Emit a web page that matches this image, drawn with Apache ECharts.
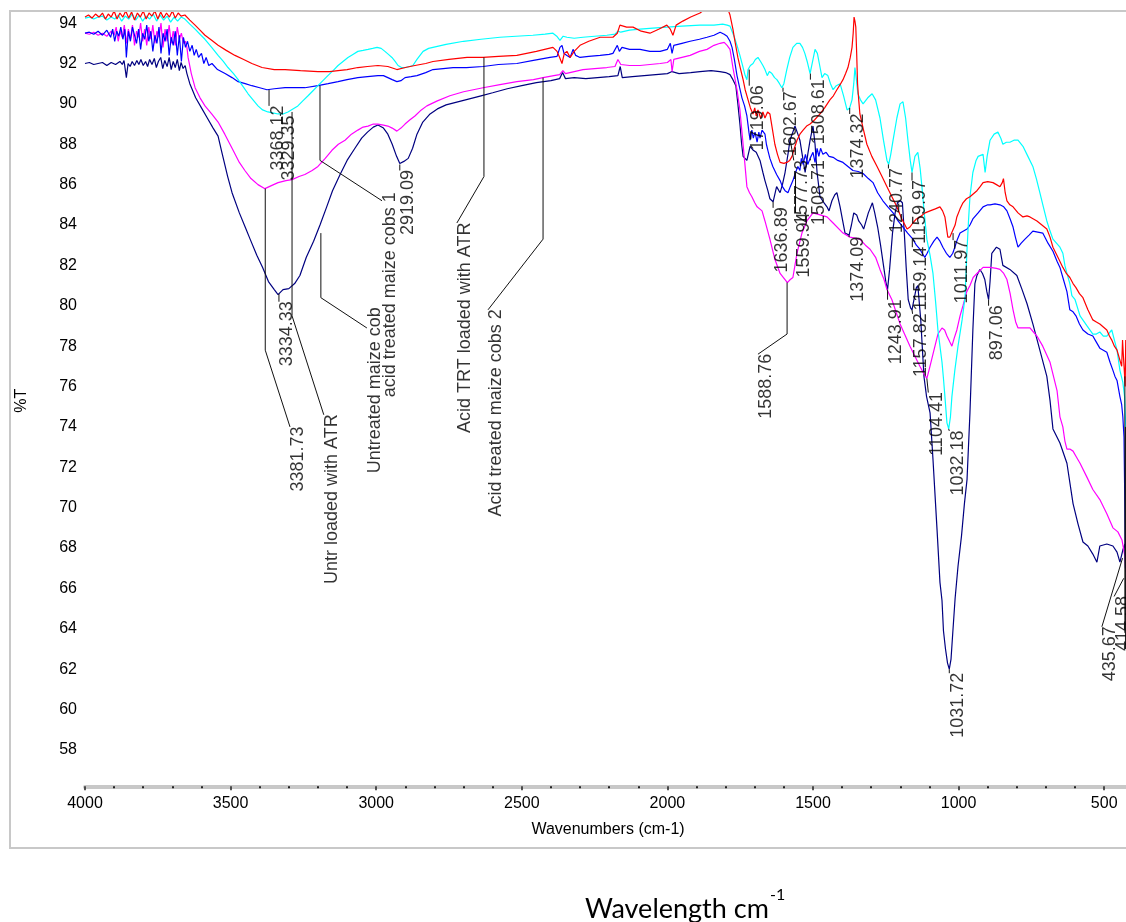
<!DOCTYPE html>
<html><head><meta charset="utf-8">
<script src="https://cdn.jsdelivr.net/npm/echarts@6/dist/echarts.min.js"></script>
<style>html,body{margin:0;padding:0;background:#fff}#c{width:1126px;height:922px}</style>
</head><body><div id="c"></div><script>
// ---- data: [wavenumber cm-1, %T] ----
const seriesNames = ['Untreated maize cob','Acid treated maize cobs 2','acid treated maize cobs 1','Untr loaded with ATR','Acid TRT loaded with ATR'];
const seriesColors = ['#000080','#ff00ff','#0000ff','#00ffff','#ff0000'];

const untreatedMaizeCob = [[4000,92.0],[3985,92.05],[3970,91.95],[3955,92.0],[3940,92.05],[3925,91.9],[3910,92.05],[3895,91.95],[3880,92.1],[3872,91.95],[3866,92.15],[3858,91.3],[3852,92.0],[3845,91.85],[3838,92.1],[3830,91.9],[3822,92.15],[3815,91.95],[3808,92.2],[3800,91.9],[3792,92.1],[3785,91.85],[3778,92.2],[3770,91.95],[3762,92.25],[3755,91.8],[3748,92.1],[3740,92.3],[3733,91.75],[3726,92.15],[3718,91.85],[3711,92.3],[3704,91.7],[3697,92.1],[3690,91.8],[3683,92.2],[3676,91.65],[3670,92.05],[3663,91.75],[3656,91.9],[3650,91.5],[3640,91.0],[3620,90.3],[3600,89.8],[3580,89.3],[3560,88.8],[3543,88.4],[3530,87.6],[3510,86.4],[3495,85.6],[3470,84.6],[3450,83.9],[3433,83.3],[3410,82.5],[3390,81.9],[3370,81.2],[3350,80.8],[3337,80.55],[3320,80.8],[3300,80.85],[3280,81.1],[3262,81.5],[3240,82.4],[3215,83.2],[3193,84.0],[3170,84.9],[3150,85.7],[3124,86.5],[3100,87.2],[3073,87.8],[3050,88.3],[3030,88.6],[3010,88.85],[2994,88.95],[2975,88.8],[2960,88.5],[2945,88.0],[2930,87.4],[2919,87.05],[2905,87.15],[2890,87.3],[2875,87.8],[2860,88.5],[2840,89.1],[2815,89.5],[2790,89.75],[2760,89.95],[2720,90.1],[2680,90.25],[2640,90.4],[2600,90.55],[2550,90.75],[2500,90.9],[2450,91.05],[2400,91.15],[2370,91.25],[2360,91.55],[2350,91.25],[2320,91.3],[2280,91.25],[2240,91.3],[2200,91.35],[2170,91.4],[2162,91.85],[2155,91.3],[2120,91.35],[2080,91.4],[2040,91.45],[2000,91.5],[1984,91.6],[1960,91.5],[1920,91.55],[1888,91.6],[1850,91.65],[1820,91.6],[1800,91.55],[1785,91.45],[1775,91.2],[1765,90.9],[1758,90.0],[1751,89.0],[1745,88.0],[1740,87.4],[1727,87.2],[1716,87.9],[1705,87.7],[1695,87.6],[1682,87.2],[1672,86.6],[1665,86.2],[1655,85.7],[1648,85.3],[1637,85.15],[1625,85.9],[1613,85.6],[1605,86.0],[1596,86.6],[1585,87.6],[1579,88.2],[1562,88.9],[1552,88.5],[1545,88.2],[1535,87.3],[1527,86.6],[1518,87.5],[1510,88.2],[1500,88.9],[1493,88.0],[1486,86.6],[1476,85.4],[1462,85.1],[1452,84.9],[1445,84.7],[1435,85.2],[1425,85.5],[1418,85.6],[1407,84.9],[1398,84.2],[1390,83.6],[1376,83.5],[1368,84.0],[1360,84.6],[1350,84.5],[1343,84.2],[1333,84.0],[1326,83.8],[1310,84.6],[1296,85.1],[1288,84.6],[1278,83.9],[1268,83.0],[1257,81.9],[1250,81.2],[1244,80.8],[1237,81.8],[1227,83.6],[1218,84.6],[1210,85.1],[1200,85.2],[1193,85.1],[1186,83.5],[1180,81.9],[1173,80.3],[1165,79.9],[1160,79.8],[1152,80.4],[1145,80.9],[1140,81.0],[1130,79.3],[1119,76.5],[1110,75.5],[1098,74.7],[1088,72.4],[1074,68.9],[1064,66.3],[1057,65.4],[1052,63.9],[1045,63.0],[1038,62.3],[1032,62.0],[1026,62.5],[1020,63.8],[1012,65.5],[1002,67.1],[990,68.6],[980,70.2],[971,71.4],[961,74.7],[951,78.8],[944,81.1],[937,81.5],[927,81.8],[918,81.6],[910,81.3],[903,80.7],[897,80.3],[892,81.2],[886,82.6],[870,82.9],[858,82.8],[848,82.0],[824,81.8],[800,81.5],[782,80.8],[765,80.1],[745,79.1],[721,77.8],[697,76.5],[686,75.3],[676,73.9],[652,73.2],[628,72.2],[607,70.2],[590,69.2],[573,68.3],[556,68.1],[539,67.7],[525,67.3],[515,68.1],[491,68.2],[470,68.1],[456,67.8],[446,67.3],[436,67.9],[429,68.2],[426,67.5]];

const acidTreatedCobs2 = [[4000,93.5],[3985,93.45],[3970,93.55],[3955,93.4],[3940,93.5],[3925,93.35],[3910,93.6],[3900,93.4],[3893,93.8],[3886,93.1],[3879,93.6],[3872,93.3],[3865,93.9],[3858,93.0],[3851,93.7],[3844,93.2],[3837,93.9],[3830,92.9],[3823,93.6],[3816,93.3],[3809,94.0],[3802,93.1],[3795,93.7],[3788,92.9],[3781,93.8],[3774,93.2],[3767,93.9],[3760,93.0],[3753,93.6],[3746,93.3],[3739,94.0],[3732,92.8],[3725,93.7],[3718,93.1],[3711,93.9],[3704,93.0],[3697,93.6],[3690,92.9],[3683,93.8],[3676,93.2],[3669,93.5],[3662,93.0],[3655,93.1],[3650,92.8],[3646,92.3],[3635,91.5],[3622,90.8],[3605,90.3],[3588,89.9],[3565,89.5],[3543,89.1],[3520,88.5],[3495,87.8],[3470,87.1],[3451,86.7],[3430,86.3],[3406,86.0],[3382,85.8],[3360,85.95],[3337,86.1],[3310,86.2],[3289,86.25],[3265,86.4],[3245,86.5],[3220,86.7],[3200,86.9],[3175,87.3],[3152,87.7],[3130,88.0],[3107,88.2],[3085,88.5],[3063,88.7],[3045,88.85],[3028,88.9],[3010,89.0],[2994,89.0],[2975,88.95],[2960,88.9],[2945,88.8],[2929,88.65],[2915,88.8],[2901,89.0],[2885,89.2],[2867,89.4],[2845,89.7],[2826,89.9],[2790,90.15],[2747,90.4],[2700,90.6],[2633,90.8],[2575,90.95],[2517,91.1],[2460,91.2],[2427,91.3],[2390,91.4],[2370,91.45],[2359,91.65],[2350,91.5],[2320,91.6],[2290,91.7],[2250,91.75],[2208,91.8],[2180,91.85],[2170,92.2],[2160,91.95],[2130,91.9],[2094,91.9],[2060,91.95],[2025,92.0],[2000,92.05],[1988,92.2],[1984,91.6],[1978,92.2],[1950,92.3],[1922,92.4],[1890,92.6],[1864,92.7],[1840,92.9],[1819,93.0],[1805,93.05],[1795,92.9],[1785,92.7],[1775,91.8],[1761,90.7],[1751,89.7],[1744,88.6],[1735,87.2],[1727,85.9],[1718,85.6],[1710,85.4],[1700,85.1],[1692,84.9],[1675,84.7],[1665,84.2],[1648,83.3],[1631,82.3],[1613,81.6],[1596,81.3],[1588,81.15],[1578,81.3],[1569,81.4],[1562,82.0],[1555,82.6],[1538,83.6],[1521,84.2],[1500,84.6],[1476,84.5],[1452,84.4],[1431,84.1],[1397,83.6],[1373,83.4],[1339,83.3],[1320,83.0],[1304,82.8],[1285,82.4],[1270,81.8],[1256,81.3],[1246,80.8],[1229,80.3],[1201,79.1],[1167,78.0],[1133,77.0],[1118,76.6],[1109,76.4],[1100,76.9],[1088,77.6],[1071,78.6],[1057,78.9],[1048,78.8],[1040,78.5],[1030,78.2],[1023,78.0],[1015,78.4],[1006,78.8],[995,79.5],[985,80.0],[972,80.7],[961,81.0],[950,81.4],[937,81.6],[916,81.9],[892,81.9],[870,81.85],[858,81.8],[845,81.6],[834,81.3],[823,80.6],[813,79.8],[804,79.2],[796,78.9],[775,78.9],[755,78.9],[743,78.7],[731,78.5],[711,78.0],[686,77.2],[662,75.8],[652,74.5],[642,74.0],[635,73.3],[628,72.9],[618,72.9],[607,72.8],[595,72.5],[583,72.2],[559,71.5],[539,70.9],[515,70.4],[491,69.7],[470,69.0],[453,68.8],[439,68.4],[429,67.6],[426,66.8]];

const acidTreatedCobs1 = [[4000,93.5],[3985,93.55],[3970,93.45],[3955,93.6],[3940,93.4],[3925,93.65],[3912,93.3],[3905,93.7],[3898,93.1],[3891,93.6],[3884,93.35],[3877,93.8],[3870,93.2],[3863,93.7],[3858,92.3],[3851,93.6],[3844,93.1],[3837,93.8],[3830,93.4],[3823,93.0],[3816,93.7],[3809,92.7],[3802,93.5],[3795,93.2],[3788,93.9],[3781,93.1],[3774,93.6],[3767,92.6],[3760,93.4],[3753,93.0],[3746,93.8],[3739,92.5],[3732,93.5],[3725,93.1],[3718,93.7],[3711,92.4],[3704,93.3],[3697,92.9],[3690,93.6],[3683,92.4],[3676,93.4],[3669,92.1],[3662,93.3],[3655,92.8],[3648,93.1],[3640,92.6],[3632,92.9],[3625,92.4],[3618,92.7],[3610,92.3],[3600,92.5],[3592,92.0],[3584,92.3],[3575,91.9],[3564,92.0],[3545,91.7],[3519,91.5],[3495,91.3],[3474,91.1],[3450,91.0],[3427,90.9],[3400,90.8],[3375,90.7],[3350,90.75],[3313,90.8],[3280,90.8],[3245,90.8],[3200,90.9],[3165,91.0],[3131,91.1],[3100,91.2],[3063,91.3],[3030,91.35],[2994,91.4],[2975,91.4],[2960,91.3],[2945,91.2],[2929,91.1],[2915,91.15],[2901,91.3],[2880,91.35],[2860,91.4],[2830,91.55],[2805,91.7],[2770,91.75],[2736,91.8],[2690,91.8],[2633,91.85],[2580,91.95],[2517,92.0],[2460,92.15],[2403,92.3],[2379,92.35],[2369,92.8],[2362,92.9],[2355,92.5],[2345,92.4],[2334,92.3],[2324,92.7],[2315,92.4],[2300,92.3],[2270,92.35],[2231,92.4],[2200,92.45],[2187,92.5],[2172,92.9],[2165,92.6],[2156,92.8],[2130,92.7],[2094,92.7],[2060,92.6],[2025,92.6],[2000,92.7],[1990,93.0],[1984,92.5],[1978,92.9],[1950,93.0],[1922,93.1],[1890,93.2],[1864,93.3],[1840,93.4],[1819,93.55],[1805,93.45],[1795,93.35],[1785,93.1],[1778,92.8],[1770,92.2],[1761,91.4],[1752,90.8],[1744,90.3],[1735,89.9],[1727,89.4],[1720,88.6],[1716,88.2],[1710,88.7],[1705,88.3],[1699,88.6],[1692,88.1],[1686,88.6],[1682,88.3],[1675,88.7],[1665,88.5],[1660,88.0],[1655,87.7],[1648,87.3],[1638,86.9],[1625,86.5],[1613,86.2],[1605,85.9],[1596,85.7],[1586,85.6],[1578,85.9],[1569,86.2],[1560,86.6],[1552,86.9],[1545,86.7],[1540,87.3],[1534,87.0],[1526,87.5],[1518,87.0],[1510,87.3],[1500,87.6],[1493,87.1],[1486,87.8],[1480,87.4],[1474,87.8],[1466,87.5],[1455,87.6],[1445,87.4],[1431,87.35],[1415,87.2],[1397,87.1],[1380,86.9],[1363,86.7],[1345,86.65],[1328,86.55],[1310,86.3],[1294,86.1],[1278,85.6],[1260,85.2],[1243,84.9],[1225,84.6],[1208,84.2],[1191,83.9],[1175,83.6],[1157,83.3],[1145,83.0],[1133,82.8],[1125,82.6],[1116,82.4],[1108,82.6],[1098,82.9],[1085,83.2],[1074,83.4],[1064,83.2],[1054,82.9],[1042,82.6],[1030,82.4],[1020,82.6],[1013,82.9],[1004,83.3],[995,83.6],[983,83.7],[971,83.8],[961,84.0],[951,84.3],[933,84.6],[916,84.9],[900,85.0],[892,85.0],[875,85.05],[858,85.0],[845,84.9],[834,84.7],[823,84.3],[813,83.9],[805,83.4],[796,82.9],[785,83.1],[772,83.3],[758,83.5],[745,83.7],[728,83.65],[711,83.6],[693,83.1],[676,82.7],[662,82.2],[652,81.9],[640,81.3],[628,80.7],[618,79.8],[607,79.7],[597,79.5],[585,79.1],[573,78.8],[556,78.6],[539,78.5],[527,78.2],[515,77.9],[503,77.8],[491,77.7],[480,77.2],[470,76.8],[463,76.5],[456,76.3],[446,75.5],[440,75.1],[436,74.5],[432,73.5],[429,70.0],[427,67.0]];

const untrLoadedATR = [[4000,94.25],[3985,94.3],[3970,94.2],[3955,94.3],[3940,94.35],[3925,94.15],[3910,94.3],[3898,94.2],[3886,94.4],[3874,94.1],[3862,94.35],[3850,94.2],[3838,94.45],[3826,94.15],[3814,94.4],[3802,94.1],[3790,94.35],[3778,94.2],[3766,94.45],[3754,94.1],[3742,94.4],[3730,94.15],[3718,94.35],[3706,94.05],[3694,94.3],[3682,94.1],[3670,94.3],[3657,94.2],[3640,93.95],[3622,93.7],[3605,93.45],[3588,93.2],[3565,92.8],[3543,92.4],[3525,92.1],[3509,91.8],[3490,91.5],[3474,91.2],[3457,90.85],[3440,90.5],[3423,90.2],[3406,89.9],[3390,89.7],[3372,89.6],[3355,89.55],[3337,89.5],[3320,89.5],[3303,89.6],[3286,89.75],[3269,89.9],[3252,90.15],[3234,90.4],[3217,90.65],[3200,90.9],[3183,91.15],[3166,91.4],[3148,91.65],[3131,91.9],[3114,92.1],[3097,92.3],[3080,92.45],[3063,92.6],[3045,92.65],[3028,92.7],[3012,92.75],[2997,92.8],[2983,92.75],[2970,92.6],[2958,92.45],[2946,92.3],[2935,92.1],[2925,91.9],[2913,91.8],[2900,91.8],[2885,91.85],[2874,91.9],[2860,92.2],[2839,92.6],[2820,92.75],[2805,92.8],[2760,92.95],[2700,93.1],[2640,93.2],[2575,93.3],[2520,93.35],[2462,93.4],[2420,93.45],[2393,93.5],[2380,93.35],[2369,93.15],[2358,93.35],[2345,93.3],[2320,93.25],[2290,93.3],[2250,93.35],[2208,93.4],[2180,93.45],[2170,93.6],[2160,93.55],[2130,93.65],[2094,93.7],[2050,93.75],[2002,93.8],[1950,93.85],[1888,93.9],[1840,93.9],[1810,93.95],[1795,93.9],[1785,93.85],[1778,93.6],[1770,93.3],[1761,92.9],[1751,92.4],[1740,91.8],[1733,91.4],[1727,91.2],[1723,91.7],[1715,91.9],[1706,92.0],[1698,92.2],[1689,92.3],[1680,92.1],[1672,91.9],[1665,91.7],[1657,91.4],[1650,91.6],[1641,91.5],[1632,91.3],[1624,91.2],[1615,91.0],[1607,90.8],[1600,91.0],[1590,91.7],[1580,92.3],[1569,92.8],[1556,93.0],[1545,93.0],[1536,92.8],[1528,92.5],[1520,92.1],[1510,91.5],[1500,92.2],[1493,92.7],[1485,92.5],[1477,91.9],[1469,91.3],[1460,91.5],[1449,91.4],[1440,91.0],[1431,90.7],[1420,90.9],[1407,91.0],[1395,90.4],[1383,89.7],[1374,89.8],[1366,90.2],[1360,91.0],[1356,91.8],[1351,91.2],[1346,90.5],[1337,90.2],[1328,90.0],[1312,90.3],[1297,90.5],[1285,90.2],[1270,89.3],[1258,88.2],[1246,87.2],[1240,87.0],[1233,87.5],[1225,88.2],[1212,89.3],[1201,90.0],[1191,90.1],[1182,89.3],[1174,88.2],[1166,87.2],[1160,86.6],[1155,87.0],[1150,87.4],[1140,87.6],[1132,86.8],[1126,85.9],[1118,84.6],[1109,83.3],[1098,82.5],[1088,81.6],[1079,80.2],[1071,78.8],[1064,78.0],[1057,77.2],[1052,76.4],[1047,75.5],[1040,74.2],[1034,73.9],[1028,74.5],[1023,75.5],[1013,76.8],[1002,78.0],[988,79.3],[978,80.4],[971,82.8],[966,84.2],[961,85.4],[951,86.6],[940,87.2],[933,87.4],[916,87.5],[909,86.6],[902,87.4],[892,88.2],[878,88.5],[865,88.6],[855,88.3],[848,88.0],[836,88.1],[824,88.1],[810,88.2],[796,88.2],[779,87.9],[762,87.4],[745,86.9],[733,86.3],[721,85.6],[709,84.9],[697,84.2],[686,83.7],[676,83.3],[664,83.1],[652,82.9],[642,82.6],[635,82.0],[628,81.6],[618,81.1],[611,80.5],[600,80.3],[583,79.5],[559,79.0],[539,78.6],[527,78.6],[515,78.7],[503,78.5],[491,78.5],[480,78.7],[474,78.8],[465,78.3],[456,77.8],[446,76.8],[436,76.2],[430,75.5],[426,74.0]];

const acidTrtLoadedATR = [[4000,94.3],[3988,94.4],[3976,94.25],[3964,94.45],[3952,94.3],[3940,94.5],[3930,94.2],[3920,94.45],[3910,94.3],[3900,94.6],[3890,94.2],[3880,94.5],[3870,94.3],[3860,94.6],[3850,94.25],[3840,94.55],[3830,94.15],[3820,94.5],[3810,94.3],[3800,94.6],[3790,94.2],[3780,94.5],[3770,94.35],[3760,94.6],[3750,94.2],[3740,94.55],[3730,94.25],[3720,94.5],[3710,94.3],[3700,94.6],[3690,94.25],[3680,94.5],[3670,94.35],[3657,94.4],[3640,94.15],[3622,93.9],[3605,93.65],[3588,93.4],[3565,93.15],[3543,92.9],[3515,92.65],[3485,92.4],[3455,92.2],[3427,92.0],[3392,91.8],[3350,91.7],[3313,91.7],[3260,91.65],[3200,91.6],[3160,91.6],[3131,91.65],[3100,91.7],[3063,91.8],[3030,91.85],[2994,91.9],[2960,91.85],[2929,91.7],[2900,91.8],[2867,91.9],[2830,92.0],[2805,92.1],[2750,92.2],[2688,92.3],[2633,92.3],[2580,92.35],[2517,92.4],[2450,92.6],[2393,92.8],[2379,92.6],[2370,92.3],[2362,92.0],[2354,92.5],[2345,92.6],[2334,92.3],[2320,92.6],[2300,92.9],[2270,93.1],[2231,93.3],[2187,93.3],[2172,93.5],[2163,93.9],[2140,93.8],[2118,93.8],[2090,93.6],[2060,93.5],[2030,93.7],[2002,93.9],[1990,93.7],[1981,93.4],[1970,93.9],[1947,94.1],[1920,94.3],[1888,94.5],[1870,94.7],[1850,94.9],[1830,95.0],[1810,95.0],[1795,94.8],[1785,94.4],[1775,93.7],[1768,93.1],[1758,92.3],[1750,91.8],[1740,91.2],[1733,90.7],[1723,90.2],[1715,89.8],[1706,89.5],[1700,89.8],[1695,89.4],[1689,89.7],[1680,89.3],[1672,89.6],[1665,89.3],[1656,89.6],[1648,89.5],[1640,88.8],[1631,88.0],[1622,87.5],[1613,87.1],[1600,87.05],[1590,87.1],[1580,87.2],[1572,87.4],[1564,87.8],[1555,88.2],[1545,88.5],[1534,88.7],[1522,88.9],[1510,89.0],[1495,89.2],[1476,89.5],[1460,89.8],[1442,90.2],[1430,90.4],[1418,90.7],[1407,90.95],[1397,91.2],[1388,91.5],[1380,91.8],[1372,92.3],[1366,92.8],[1362,93.5],[1359,94.3],[1356,94.1],[1353,93.8],[1350,92.5],[1347,91.0],[1343,90.2],[1339,89.5],[1328,88.8],[1315,88.0],[1298,87.4],[1280,86.9],[1263,86.4],[1246,85.9],[1229,85.4],[1212,84.9],[1195,84.3],[1177,83.8],[1167,83.9],[1157,84.1],[1145,84.3],[1133,84.4],[1115,84.6],[1098,84.7],[1080,84.8],[1064,84.9],[1055,84.7],[1047,84.4],[1041,83.8],[1037,83.4],[1030,83.4],[1024,83.6],[1019,83.6],[1012,84.0],[1006,84.4],[995,84.8],[985,85.1],[973,85.3],[961,85.4],[949,85.55],[937,85.7],[926,85.9],[916,86.1],[900,86.15],[882,86.1],[870,86.0],[858,85.9],[850,86.1],[846,86.3],[840,85.6],[834,85.2],[824,85.0],[813,84.9],[796,84.6],[779,84.4],[765,84.45],[755,84.4],[743,84.3],[731,84.2],[714,84.0],[697,83.8],[686,83.4],[676,82.9],[659,82.4],[642,81.9],[630,81.6],[618,81.4],[607,81.1],[597,80.9],[585,80.6],[573,80.4],[556,79.8],[539,79.3],[527,79.2],[515,79.1],[503,78.95],[491,78.8],[482,78.5],[474,78.3],[465,78.0],[456,77.8],[446,77.3],[440,77.0],[437,78.3],[434,77.5],[431,76.8],[428,76.0],[426,78.3]];

const seriesData = [untreatedMaizeCob, acidTreatedCobs2, acidTreatedCobs1, untrLoadedATR, acidTrtLoadedATR];

// annotations: [text, leader path [[wn,%T],...], optional label anchor]
const annotations = [
  ['3368.12', [[3368,90.7],[3368,89.9]]],
  ['3329.35', [[3329,89.5],[3329,89.4]]],
  ['3334.33', [[3334,80.6],[3334,80.2]]],
  ['3381.73', [[3381,85.8],[3381,77.8],[3296,74.0]]],
  ['Untr loaded with ATR', [[3289,89.6],[3289,79.5],[3180,74.6]]],
  ['Untreated maize cob', [[3190,83.6],[3190,80.4],[3032,78.9]], [3032,79.9]],
  ['acid treated maize cobs 1', [[3193,90.9],[3193,87.2],[2980,85.2]], [2980,85.6]],
  ['2919.09', [[2919,87.0],[2919,86.7]]],
  ['Acid TRT loaded with ATR', [[2630,92.3],[2630,86.4],[2723,84.1]]],
  ['Acid treated maize cobs 2', [[2427,91.3],[2427,83.3],[2616,79.8]]],
  ['1719.06', [[1719,91.7],[1719,90.9]]],
  ['1602.67', [[1603,90.8],[1603,90.6]]],
  ['1508.61', [[1509,91.5],[1509,91.2]]],
  ['1374.32', [[1374,89.8],[1374,89.5]]],
  ['1240.77', [[1241,87.0],[1241,86.8]]],
  ['1159.97', [[1160,86.6],[1160,86.2]]],
  ['1159.14', [[1159,83.3],[1159,82.9]]],
  ['1011.97', [[1019,83.6],[1019,83.25]]],
  ['1636.89', [[1637,85.15],[1637,84.85]]],
  ['1577.73', [[1578,88.2],[1566,87.2]]],
  ['1559.94', [[1560,86.6],[1560,84.6]]],
  ['1508.71', [[1509,87.3],[1509,87.2]]],
  ['1374.09', [[1376,83.5],[1376,83.4]]],
  ['1243.91', [[1244,80.8],[1244,80.3]]],
  ['1157.82', [[1160,79.8],[1158,79.6]]],
  ['1104.41', [[1109,76.4],[1104,75.7]]],
  ['1032.18', [[1034,73.9],[1032,73.8]]],
  ['1031.72', [[1032,62.0],[1032,61.8]]],
  ['897.06', [[897,80.3],[897,80.0]]],
  ['1588.76', [[1589,81.15],[1589,78.6],[1689,77.6]]],
  ['435.67', [[437,67.5],[508,64.1]]],
  ['414.58', [[433,66.5],[466,65.6]]],
  ['', [[429,76.5],[429,63.8]]],
  ['', [[427,74.0],[427,63.0]]]
];

const xRange = [0, 4000], xStep = 500;
const yRange = [56, 94.6], yStep = 2;

const chart = echarts.init(document.getElementById('c'), null, {renderer:'canvas'});
const FONT = 'Liberation Sans, Arial, sans-serif';

const lineSeries = seriesData.map((d, i) => ({
  type: 'line', name: seriesNames[i], data: d, showSymbol: false, symbol: 'none',
  lineStyle: {color: seriesColors[i], width: 1.2}, itemStyle:{color: seriesColors[i]},
  clip: true, z: 2 + i, animation: false
}));

const leaderSeries = {
  type: 'lines', coordinateSystem: 'cartesian2d', polyline: true, z: 10,
  lineStyle: {color: '#111', width: 1, opacity: 1},
  data: annotations.map(a => ({coords: a[1]})), animation: false, silent: true
};

const labelSeries = {
  type: 'scatter', z: 11, symbolSize: 1, itemStyle: {color: 'transparent'}, silent: true, animation: false,
  data: annotations.filter(a => a[0]).map(a => {
    const p = a[2] || a[1][a[1].length - 1];
    return {name: a[0], value: p};
  }),
  label: {
    show: true, formatter: '{b}', rotate: 90, position: [0, 0], align: 'right', verticalAlign: 'top',
    fontFamily: FONT, fontSize: 18, color: '#000', padding: [0, 0, 0, 2]
  }
};

chart.setOption({
  backgroundColor: '#fff',
  animation: false,
  grid: {left: 85, top: 11, width: 1164.8, height: 779.3, containLabel: false, outerBoundsMode: 'none'},
  xAxis: {
    type: 'value', inverse: true, min: xRange[0], max: xRange[1], interval: xStep, offset: -4,
    axisLine: {show: true, lineStyle: {color: '#c8c8c8', width: 4}},
    axisTick: {show: true, length: 4, lineStyle: {color: '#222', width: 1.5}},
    minorTick: {show: true, splitNumber: 5, length: 2, lineStyle: {color: '#222', width: 2}},
    axisLabel: {fontFamily: FONT, fontSize: 16, color: '#000', margin: 9, formatter: v => String(v)},
    splitLine: {show: false}
  },
  yAxis: {
    type: 'value', min: yRange[0], max: yRange[1], interval: yStep,
    name: '%T', nameLocation: 'middle', nameGap: 55,
    nameTextStyle: {fontFamily: FONT, fontSize: 16, color: '#000'},
    axisLine: {show: true, lineStyle: {color: '#c8c8c8', width: 4}},
    axisTick: {show: true, length: 4, lineStyle: {color: '#222', width: 1.5}},
    minorTick: {show: true, splitNumber: 5, length: 2, lineStyle: {color: '#222', width: 2}},
    axisLabel: {fontFamily: FONT, fontSize: 16, color: '#000', margin: 8, showMaxLabel: false, showMinLabel: false, formatter: v => String(v)},
    splitLine: {show: false}
  },
  series: [...lineSeries, leaderSeries, labelSeries],
  graphic: [
    {type: 'rect', shape: {x: 10, y: 11, width: 1200, height: 837}, style: {fill: 'none', stroke: '#c8c8c8', lineWidth: 2}, z: 100, silent: true},
    {type: 'text', x: 608, y: 830, style: {text: 'Wavenumbers (cm-1)', font: '16px ' + FONT, fill: '#000', align: 'center', verticalAlign: 'middle'}, z: 100},
    {type: 'text', x: 585, y: 909, style: {text: 'Wavelength cm', font: '27px Lato, "Open Sans", sans-serif', fill: '#000', align: 'left', verticalAlign: 'middle'}, z: 100},
    {type: 'text', x: 770, y: 895, style: {text: '-1', font: '16px Lato, "Open Sans", sans-serif', fill: '#000', align: 'left', verticalAlign: 'middle'}, z: 100}
  ]
});
</script></body></html>
